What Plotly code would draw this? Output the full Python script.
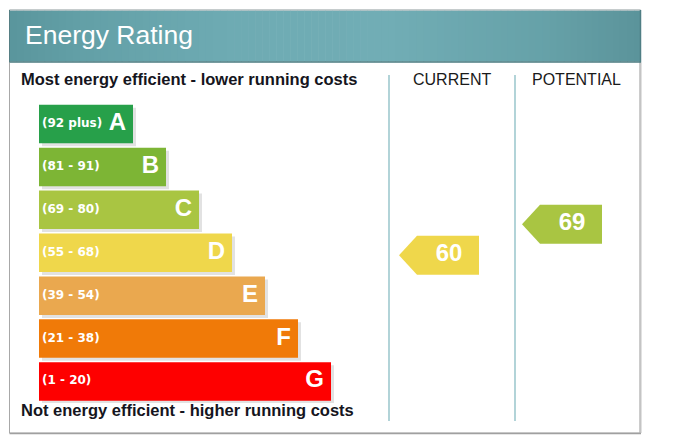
import plotly.graph_objects as go

# ---------------- data ----------------
bands = ["A", "B", "C", "D", "E", "F", "G"]
band_ranges = ["(92 plus)", "(81 - 91)", "(69 - 80)", "(55 - 68)", "(39 - 54)", "(21 - 38)", "(1 - 20)"]
band_lower = [92, 81, 69, 55, 39, 21, 1]
band_colors = ["#27a04a", "#7db535", "#a9c542", "#efd74b", "#eaa84f", "#f07a08", "#fe0000"]
current_score = 60
potential_score = 69
title_text = "Energy Rating"
top_note = "Most energy efficient - lower running costs"
bottom_note = "Not energy efficient - higher running costs"
column_titles = ["CURRENT", "POTENTIAL"]

W, H = 687, 447
FONT = "Liberation Sans, Arial, sans-serif"


def px(x):
    return x / W


def py(y):
    return 1 - y / H


def band_of(score):
    for i, lo in enumerate(band_lower):
        if score >= lo:
            return i
    return len(band_lower) - 1


# bar geometry (pixel layout)
bar_left = 39
bar_lengths = [61 + 33 * (i + 1) for i in range(len(bands))]
row_top_px, row_pitch = 102.6, 42.9
row_bottom_px = row_top_px + row_pitch * len(bands)
ydom = [py(row_bottom_px), py(row_top_px)]

# score axis for arrows (vertical position from score)
score_range = [17.3, 104.17]
score_per_px = (score_range[1] - score_range[0]) / (row_bottom_px - row_top_px)

fig = go.Figure()

# shadows of bars
bw = 38.5 / row_pitch
fig.add_trace(go.Bar(
    orientation="h", y=bands, x=bar_lengths, base=bar_left + 3,
    width=bw, offset=-bw / 2 + 3 / row_pitch,
    marker=dict(color="#e2e2e2", line=dict(width=0)),
    hoverinfo="skip", showlegend=False,
))
# bars
fig.add_trace(go.Bar(
    orientation="h", y=bands, x=bar_lengths, base=bar_left,
    width=bw,
    marker=dict(color=band_colors, line=dict(width=0)),
    hoverinfo="skip", showlegend=False,
))
# range labels
fig.add_trace(go.Scatter(
    x=[bar_left + 3] * len(bands), y=bands, mode="text", text=band_ranges,
    textposition="middle right",
    textfont=dict(family="DejaVu Sans", size=12, color="white", weight="bold"),
    hoverinfo="skip", showlegend=False,
))
# band letters
fig.add_trace(go.Scatter(
    x=[bar_left + L - 7 for L in bar_lengths], y=bands, mode="text", text=bands,
    textposition="middle left",
    textfont=dict(family=FONT, size=24, color="white", weight="bold"),
    hoverinfo="skip", showlegend=False,
))

# arrows
arrow_specs = [(current_score, 399, 479), (potential_score, 522, 602)]
for score, x0, x1 in arrow_specs:
    h = 19.5 * score_per_px
    notch = 18
    col = band_colors[band_of(score)]
    fig.add_trace(go.Scatter(
        x=[x0, x0 + notch, x1, x1, x0 + notch, x0],
        y=[score, score + h, score + h, score - h, score - h, score],
        yaxis="y2", mode="lines", fill="toself", fillcolor=col,
        line=dict(width=0, color=col), hoverinfo="skip", showlegend=False,
    ))
    fig.add_trace(go.Scatter(
        x=[(x0 + notch + x1) / 2 + 1], y=[score], yaxis="y2", mode="text",
        text=[str(score)], textposition="middle center",
        textfont=dict(family=FONT, size=24, color="white", weight="bold"),
        hoverinfo="skip", showlegend=False,
    ))

shapes = []
# frame
shapes.append(dict(type="rect", xref="paper", yref="paper",
                   x0=px(9.5), x1=px(640), y0=py(433), y1=py(10),
                   line=dict(color="#a8a8a8", width=1), fillcolor="white", layer="below"))
shapes.append(dict(type="line", xref="paper", yref="paper",
                   x0=px(640.5), x1=px(640.5), y0=py(433), y1=py(62),
                   line=dict(color="#c4c4c4", width=2), layer="below"))
shapes.append(dict(type="line", xref="paper", yref="paper",
                   x0=px(9.5), x1=px(641), y0=py(433.5), y1=py(433.5),
                   line=dict(color="#a0a0a0", width=1.5), layer="below"))

# header gradient
def lerp(c1, c2, t):
    a = [int(c1[i:i + 2], 16) for i in (1, 3, 5)]
    b = [int(c2[i:i + 2], 16) for i in (1, 3, 5)]
    return "#%02x%02x%02x" % tuple(round(a[k] + (b[k] - a[k]) * t) for k in range(3))

stops = [(0.0, "#5a959c"), (0.12, "#63a0a7"), (0.35, "#6eabb3"), (0.6, "#71adb5"),
         (0.85, "#66a1a8"), (1.0, "#5b949a")]

def grad(t):
    for (t0, c0), (t1, c1) in zip(stops[:-1], stops[1:]):
        if t <= t1:
            return lerp(c0, c1, (t - t0) / (t1 - t0))
    return stops[-1][1]

hx0, hx1 = 9.5, 641
n = 90
for k in range(n):
    xa = hx0 + (hx1 - hx0) * k / n
    xb = hx0 + (hx1 - hx0) * (k + 1) / n + 0.6
    shapes.append(dict(type="rect", xref="paper", yref="paper",
                       x0=px(xa), x1=px(min(xb, hx1)), y0=py(61.5), y1=py(10.5),
                       line=dict(width=0), fillcolor=grad((k + 0.5) / n), layer="below"))
shapes.append(dict(type="line", xref="paper", yref="paper",
                   x0=px(9.5), x1=px(641), y0=py(10), y1=py(10),
                   line=dict(color="#b8c4c6", width=1), layer="below"))
shapes.append(dict(type="line", xref="paper", yref="paper",
                   x0=px(9.5), x1=px(641), y0=py(62), y1=py(62),
                   line=dict(color="#4b7b81", width=1.5), layer="below"))
shapes.append(dict(type="line", xref="paper", yref="paper",
                   x0=px(640.5), x1=px(640.5), y0=py(62), y1=py(10),
                   line=dict(color="#4f7e84", width=1.5), layer="below"))
shapes.append(dict(type="line", xref="paper", yref="paper",
                   x0=px(9.5), x1=px(9.5), y0=py(62), y1=py(10),
                   line=dict(color="#567f84", width=1), layer="below"))

# dividers
for xd in (389, 515):
    shapes.append(dict(type="line", xref="paper", yref="paper",
                       x0=px(xd), x1=px(xd), y0=py(421), y1=py(75),
                       line=dict(color="#9fc9cf", width=1.6), layer="below"))

annotations = [
    dict(text=title_text, xref="paper", yref="paper", x=px(23), y=py(35),
         xanchor="left", yanchor="middle", showarrow=False,
         font=dict(family=FONT, size=26.5, color="white")),
    dict(text=top_note, xref="paper", yref="paper", x=px(19), y=py(79),
         xanchor="left", yanchor="middle", showarrow=False,
         font=dict(family=FONT, size=16.5, color="#151520", weight="bold")),
    dict(text=bottom_note, xref="paper", yref="paper", x=px(19), y=py(409.5),
         xanchor="left", yanchor="middle", showarrow=False,
         font=dict(family=FONT, size=16.5, color="#151520", weight="bold")),
    dict(text=column_titles[0], xref="paper", yref="paper", x=px(452), y=py(79.5),
         xanchor="center", yanchor="middle", showarrow=False,
         font=dict(family=FONT, size=16, color="#1a1a1a")),
    dict(text=column_titles[1], xref="paper", yref="paper", x=px(576), y=py(79.5),
         xanchor="center", yanchor="middle", showarrow=False,
         font=dict(family=FONT, size=16, color="#1a1a1a")),
]

fig.update_layout(
    width=W, height=H, margin=dict(l=0, r=0, t=0, b=0),
    paper_bgcolor="white", plot_bgcolor="rgba(0,0,0,0)",
    barmode="overlay", showlegend=False,
    xaxis=dict(range=[0, W], domain=[0, 1], visible=False, fixedrange=True),
    yaxis=dict(type="category", categoryorder="array", categoryarray=bands,
               range=[len(bands) - 0.5, -0.5], domain=ydom, visible=False, fixedrange=True),
    yaxis2=dict(range=score_range, overlaying="y", visible=False, fixedrange=True),
    shapes=shapes, annotations=annotations,
)

fig.write_html("out.html")
